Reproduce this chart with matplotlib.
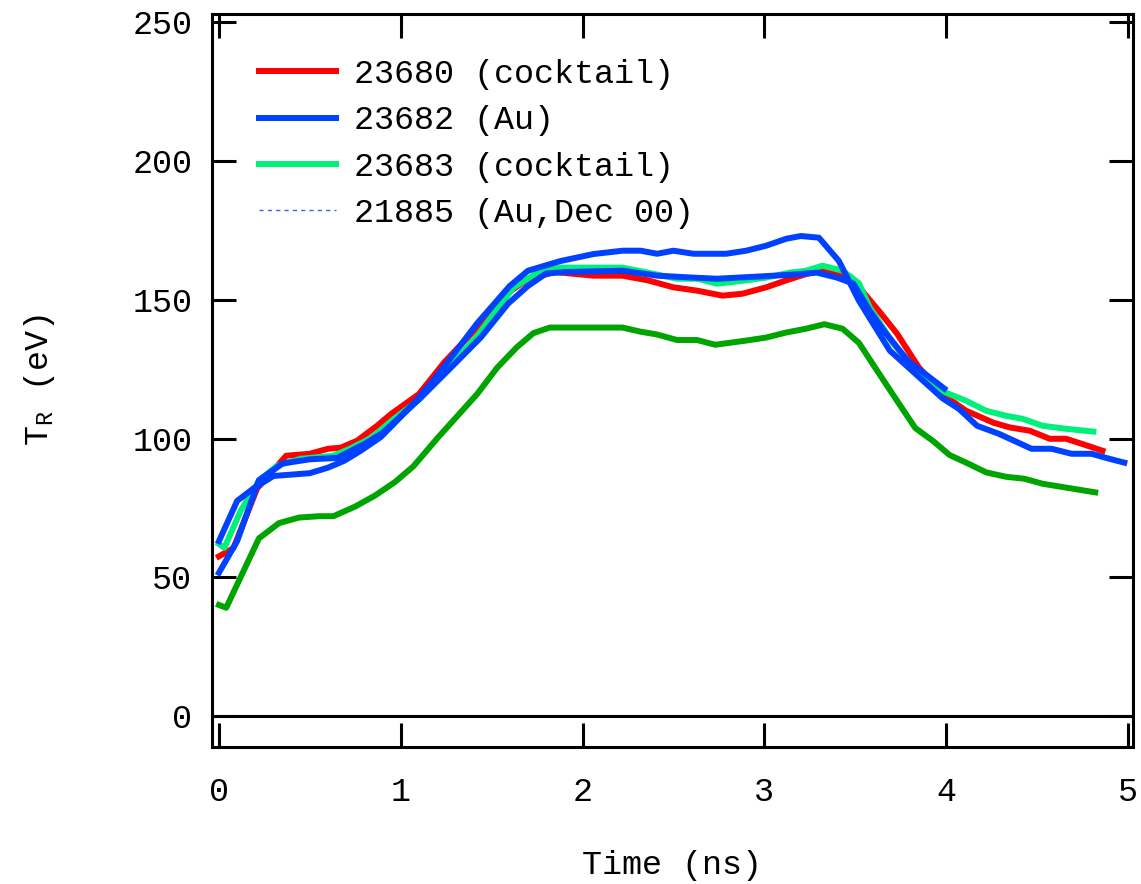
import matplotlib
matplotlib.use("Agg")
import matplotlib.pyplot as plt
from matplotlib.lines import Line2D

plt.rcParams['font.family'] = ['Liberation Mono', 'DejaVu Sans']
plt.rcParams['mathtext.fontset'] = 'custom'
plt.rcParams['mathtext.rm'] = 'Liberation Mono'

# shot 23680 (cocktail)
t_23680 = [0.0, 0.08, 0.21, 0.37, 0.5, 0.6, 0.67, 0.76, 0.87, 0.95, 1.1, 1.24, 1.42, 1.6, 1.7,
           1.85, 2.06, 2.22, 2.36, 2.5, 2.63, 2.77, 2.88, 3.01, 3.12, 3.23, 3.32, 3.47, 3.63, 3.73,
           3.85, 4.0, 4.11, 4.26, 4.35, 4.46, 4.57, 4.66, 4.75, 4.86]
T_23680 = [57.5, 60.5, 82, 93.8, 94.5, 96.3, 96.7, 99.2, 104.6, 109, 116, 127.5, 140, 153, 157.5,
           160, 158.7, 158.7, 157, 154.5, 153.3, 151.5, 152.2, 154.5, 157, 159.3, 160.5, 158.5, 146, 137.8,
           125.6, 115, 110, 105.7, 104, 102.8, 99.9, 99.9, 98, 95.6]

# shot 23682 (Au)
t_23682 = [0.0, 0.1, 0.19, 0.3, 0.5, 0.6, 0.69, 0.78, 0.89, 0.98, 1.09, 1.18, 1.31, 1.42, 1.6,
           1.7, 1.88, 2.06, 2.22, 2.32, 2.41, 2.5, 2.61, 2.79, 2.9, 3.01, 3.12, 3.2, 3.3, 3.41,
           3.52, 3.69, 3.98, 4.07, 4.17, 4.29, 4.47, 4.58, 4.69, 4.8, 4.88, 4.98]
T_23682 = [63, 77.5, 82, 86.5, 87.5, 89.5, 92, 95.6, 100.5, 106.5, 114, 121, 132, 141.5, 155,
           160.5, 164, 166.5, 167.7, 167.7, 166.6, 167.7, 166.6, 166.6, 167.7, 169.5, 172, 173, 172.4, 164,
           149.7, 131.7, 114.5, 110.7, 104.6, 101.7, 96.3, 96.3, 94.5, 94.5, 93, 91.3]

# shot 23683 (cocktail)
t_23683 = [0.0, 0.03, 0.12, 0.22, 0.32, 0.45, 0.63, 0.72, 0.84, 0.95, 1.1, 1.3, 1.42, 1.62, 1.77,
           1.88, 2.22, 2.36, 2.52, 2.63, 2.74, 2.9, 3.01, 3.14, 3.23, 3.32, 3.43, 3.52, 3.58, 3.71,
           3.82, 3.95, 4.0, 4.11, 4.22, 4.33, 4.42, 4.53, 4.66, 4.81]
T_23683 = [62, 60.6, 74, 84.8, 90.2, 92.7, 93.8, 96.3, 100.3, 106.4, 114, 128, 137, 154.4, 160.5,
           161.6, 161.6, 159.8, 157.6, 157.6, 155.8, 157, 158, 159.8, 160.5, 162.3, 160.5, 156, 147.2, 134.2,
           125.5, 118.3, 116.5, 113.6, 110, 108.2, 107.1, 104.6, 103.5, 102.5]

# shot 21885 (Au, Dec 00)
t_21885 = [0.0, 0.1, 0.22, 0.35, 0.5, 0.65, 0.8, 0.9, 1.0, 1.11, 1.26, 1.44, 1.59, 1.7, 1.8,
           1.9, 2.22, 2.41, 2.61, 2.74, 2.97, 3.16, 3.29, 3.4, 3.49, 3.58, 3.67, 3.79, 3.99]
T_21885 = [51.6, 63, 85, 91, 92.5, 93, 98, 102, 108, 114.7, 124.5, 136.4, 148.6, 155, 159.5,
           160, 160.5, 158.7, 158, 157.6, 158.4, 159.1, 159.8, 158, 155.8, 146, 137.8, 128, 118]

# lower reference curve
t_ref = [0.0, 0.04, 0.22, 0.33, 0.44, 0.55, 0.63, 0.75, 0.86, 0.97, 1.07, 1.2, 1.31, 1.42, 1.53,
         1.64, 1.73, 1.82, 2.0, 2.22, 2.32, 2.41, 2.52, 2.63, 2.73, 2.9, 3.01, 3.12, 3.23, 3.33,
         3.43, 3.52, 3.62, 3.73, 3.83, 3.93, 4.02, 4.11, 4.22, 4.33, 4.43, 4.53, 4.66, 4.82]
T_ref = [40, 39, 64, 69.5, 71.5, 72, 72, 75.5, 79.5, 84.4, 90, 100, 108, 116, 125.5,
         133, 138, 140, 140, 140, 138.5, 137.5, 135.5, 135.5, 133.8, 135.3, 136.4, 138.2, 139.6, 141.2,
         139.6, 134.5, 124.5, 113.6, 103.8, 99, 94, 91.3, 87.8, 86.2, 85.5, 83.7, 82.3, 80.6]

legend_labels = ['23680 (cocktail)', '23682 (Au)', '23683 (cocktail)', '21885 (Au,Dec 00)']

red = '#ff0000'
blue = '#0040ff'
mint = '#00f07c'
dgreen = '#00a400'
lw = 4.3

fig = plt.figure(figsize=(11.41, 8.84), dpi=100)
ax = fig.add_axes([0.1855, 0.1553, 0.8072, 0.8294])

ax.plot(t_23680, T_23680, color=red, lw=lw)
ax.plot(t_23683, T_23683, color=mint, lw=lw)
ax.plot(t_21885, T_21885, color=blue, lw=lw)
ax.plot(t_23682, T_23682, color=blue, lw=lw)
ax.plot(t_ref, T_ref, color=dgreen, lw=lw)

ax.axhline(0, color='black', lw=2.2, zorder=1)

ax.set_xlim(-0.040, 5.026)
ax.set_ylim(-11.1, 253.2)
ax.set_xticks([0, 1, 2, 3, 4, 5])
ax.set_yticks([0, 50, 100, 150, 200, 250])

for s in ax.spines.values():
    s.set_linewidth(2.2)
ax.tick_params(direction='in', length=17, width=2.2, top=True, right=True,
               labelsize=24, pad=14)
ax.tick_params(axis='x', pad=22)

ax.set_xlabel('Time (ns)', fontsize=24, labelpad=30)
ax.set_ylabel(r'T$_\mathrm{R}$ (eV)', fontsize=24, labelpad=54)

handles = [Line2D([], [], color=red, lw=lw),
           Line2D([], [], color=blue, lw=lw),
           Line2D([], [], color=mint, lw=lw),
           Line2D([], [], color='#3366ff', lw=1, linestyle=(0, (3, 3)))]
ax.legend(handles, legend_labels, loc='upper left', bbox_to_anchor=(0.026, 0.97),
          frameon=False, fontsize=24, handlelength=2.3, handletextpad=0.55,
          labelspacing=0.46, borderaxespad=0.3)

fig.savefig('out.png', dpi=100)
